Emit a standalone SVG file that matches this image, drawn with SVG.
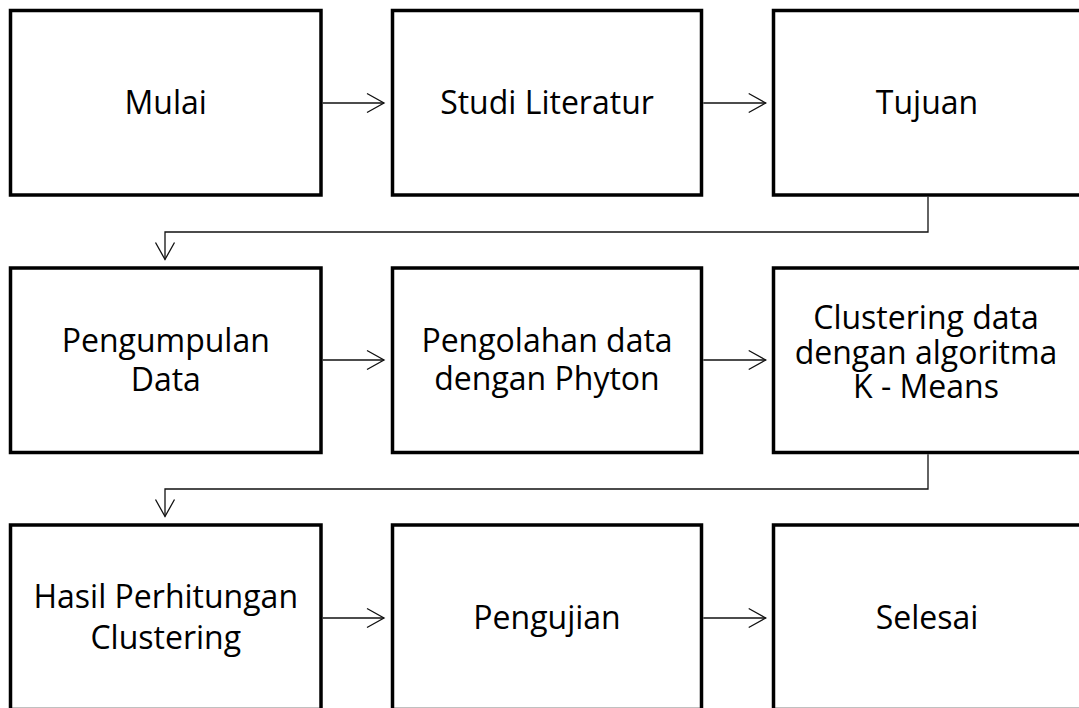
<svg xmlns="http://www.w3.org/2000/svg" width="1079" height="708" viewBox="0 0 1079 708">
<defs>
<style>
.box{fill:#fff;stroke:#000;stroke-width:3.5}
.lbl{font-family:"Open Sans","Liberation Sans",Arial,sans-serif;font-size:32px;fill:#000;text-anchor:middle}
.con{fill:none;stroke:#111;stroke-width:1.3}
.ah{fill:none;stroke:#111;stroke-width:1.3}
</style>
</defs>
<rect width="1079" height="708" fill="#fff"/>
<g id="n1"><rect class="box" x="10.5" y="10.5" width="310.5" height="184.5"/><text class="lbl" x="165.75" y="114">Mulai</text></g>
<g id="n2"><rect class="box" x="392.5" y="10.5" width="309" height="184.5"/><text class="lbl" x="547" y="114">Studi Literatur</text></g>
<g id="n3"><rect class="box" x="773.5" y="10.5" width="309.5" height="184.5"/><text class="lbl" x="927" y="114">Tujuan</text></g>
<g id="n4"><rect class="box" x="10.5" y="268" width="310.5" height="184.5"/><text class="lbl" x="165.75" y="352">Pengumpulan</text><text class="lbl" x="165.75" y="391">Data</text></g>
<g id="n5"><rect class="box" x="392.5" y="268" width="309" height="184.5"/><text class="lbl" x="547" y="352">Pengolahan data</text><text class="lbl" x="547" y="390">dengan Phyton</text></g>
<g id="n6"><rect class="box" x="773.5" y="268" width="309.5" height="184.5"/><text class="lbl" x="926" y="329">Clustering data</text><text class="lbl" x="926" y="363.5">dengan algoritma</text><text class="lbl" x="926" y="398">K - Means</text></g>
<g id="n7"><rect class="box" x="10.5" y="525" width="310.5" height="184.5"/><text class="lbl" x="165.75" y="608">Hasil Perhitungan</text><text class="lbl" x="165.75" y="649">Clustering</text></g>
<g id="n8"><rect class="box" x="392.5" y="525" width="309" height="184.5"/><text class="lbl" x="547" y="629">Pengujian</text></g>
<g id="n9"><rect class="box" x="773.5" y="525" width="309.5" height="184.5"/><text class="lbl" x="927" y="629">Selesai</text></g>
<g id="connectors">
<path class="con" d="M322.8 103H384"/><path class="ah" d="M367 93.5L384 103L367 112.5"/>
<path class="con" d="M703.3 103H765.7"/><path class="ah" d="M748.7 93.5L765.7 103L748.7 112.5"/>
<path class="con" d="M928 196.8V232H165V259.5"/><path class="ah" d="M155.5 242.5L165 259.5L174.5 242.5"/>
<path class="con" d="M322.8 360H384"/><path class="ah" d="M367 350.5L384 360L367 369.5"/>
<path class="con" d="M703.3 360H765.7"/><path class="ah" d="M748.7 350.5L765.7 360L748.7 369.5"/>
<path class="con" d="M928 454.3V489H165V516.5"/><path class="ah" d="M155.5 499.5L165 516.5L174.5 499.5"/>
<path class="con" d="M322.8 618H384"/><path class="ah" d="M367 608.5L384 618L367 627.5"/>
<path class="con" d="M703.3 618H765.7"/><path class="ah" d="M748.7 608.5L765.7 618L748.7 627.5"/>
</g>
</svg>
